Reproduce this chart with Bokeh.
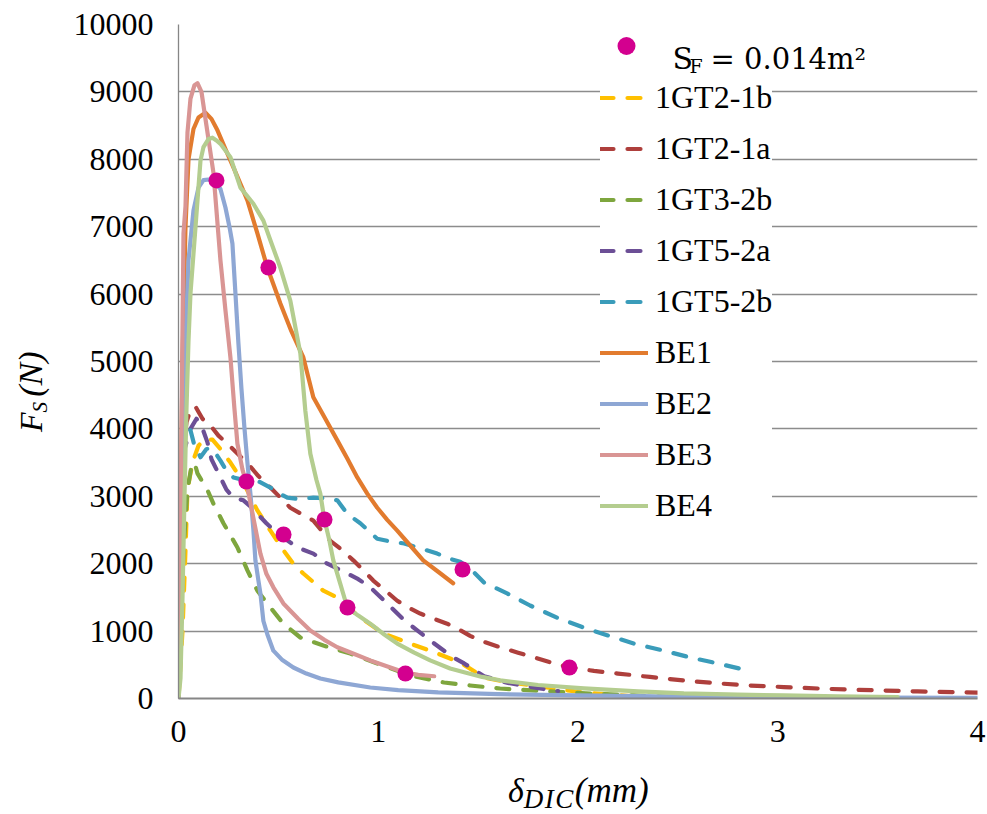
from bokeh.plotting import figure
from bokeh.models import Legend, LegendItem, Label, FixedTicker, Div
from bokeh.layouts import row, column
from bokeh.embed import file_html
from bokeh.resources import INLINE

# ---------------- data ----------------
x_ticks = [0, 1, 2, 3, 4]
y_ticks = [0, 1000, 2000, 3000, 4000, 5000, 6000, 7000, 8000, 9000, 10000]

gt2_1b_x = [0, 0.02, 0.035, 0.045, 0.07, 0.1, 0.13, 0.17, 0.21, 0.26, 0.325, 0.395, 0.46, 0.525, 0.575,
            0.625, 0.725, 0.795, 0.85, 0.91, 0.97, 1.025, 1.16, 1.295, 1.41, 1.53, 1.65, 1.78, 1.9, 2.03, 2.2, 2.36]
gt2_1b_y = [0, 1000, 2200, 3100, 3500, 3750, 3850, 3840, 3700, 3500, 3200, 2790, 2490, 2200, 2000,
            1855, 1600, 1500, 1350, 1200, 1080, 965, 815, 670, 535, 312, 240, 193, 140, 89, 50, 15]

gt2_1a_x = [0, 0.005, 0.01, 0.02, 0.04, 0.06, 0.085, 0.12, 0.16, 0.2, 0.245, 0.3, 0.345, 0.4, 0.46, 0.51,
            0.56, 0.62, 0.675, 0.72, 0.76, 0.82, 0.875, 0.93, 0.975, 1.04, 1.095, 1.15, 1.21, 1.28, 1.345,
            1.4, 1.46, 1.53, 1.61, 1.7, 1.78, 1.87, 1.96, 2.08, 2.2, 2.36, 2.53, 2.7, 2.86, 3.03, 3.2, 3.36,
            3.53, 3.7, 3.91, 4.0]
gt2_1a_y = [0, 1500, 2800, 3600, 4100, 4280, 4330, 4150, 4050, 3900, 3780, 3620, 3490, 3300, 3130, 2980,
            2830, 2730, 2640, 2480, 2340, 2200, 2050, 1890, 1750, 1590, 1450, 1350, 1260, 1180, 1110,
            1030, 930, 840, 760, 680, 610, 530, 460, 410, 370, 320, 267, 225, 193, 170, 148, 132,
            119, 105, 92, 88]

gt3_2b_x = [0, 0.01, 0.025, 0.045, 0.065, 0.08, 0.095, 0.145, 0.175, 0.225, 0.295, 0.345, 0.395, 0.46,
            0.525, 0.61, 0.725, 0.86, 0.995, 1.16, 1.33, 1.46, 1.61, 1.95, 2.28, 2.53]
gt3_2b_y = [0, 900, 2200, 3100, 3450, 3500, 3340, 3090, 2890, 2600, 2240, 1900, 1600, 1350,
            1110, 905, 785, 667, 520, 340, 237, 193, 148, 89, 45, 15]

gt5_2a_x = [0, 0.005, 0.015, 0.03, 0.06, 0.09, 0.115, 0.145, 0.165, 0.19, 0.21, 0.24, 0.275, 0.325, 0.36,
            0.395, 0.44, 0.495, 0.595, 0.675, 0.745, 0.845, 0.9, 0.96, 1.045, 1.13, 1.2, 1.26, 1.375,
            1.43, 1.53, 1.65, 1.81, 1.9]
gt5_2a_y = [0, 1500, 3000, 3700, 4000, 4150, 4050, 3800, 3550, 3400, 3280, 3100, 2980, 2940, 2850,
            2740, 2600, 2450, 2240, 2150, 2000, 1855, 1770, 1650, 1410, 1160, 1000, 860, 610,
            520, 330, 230, 148, 110]

gt5_2b_x = [0, 0.005, 0.01, 0.02, 0.04, 0.06, 0.08, 0.11, 0.14, 0.16, 0.19, 0.21, 0.24, 0.275, 0.33,
            0.395, 0.46, 0.5, 0.545, 0.6, 0.675, 0.74, 0.795, 0.845, 0.91, 0.995, 1.06, 1.13, 1.22,
            1.295, 1.35, 1.41, 1.47, 1.53, 1.645, 1.76, 1.895, 2.03, 2.15, 2.28, 2.43, 2.56, 2.7, 2.85]
gt5_2b_y = [0, 2000, 3200, 3700, 3900, 3980, 3750, 3580, 3700, 3720, 3620, 3530, 3380, 3280, 3240,
            3230, 3130, 3050, 2980, 2960, 2980, 2970, 2940, 2740, 2600, 2370, 2330, 2300, 2220,
            2150, 2080, 2030, 1900, 1720, 1560, 1380, 1200, 1050, 935, 815, 710, 610, 520, 415]

be1_x = [0, 0.01, 0.02, 0.035, 0.05, 0.075, 0.1, 0.135, 0.165, 0.195, 0.235, 0.275, 0.345, 0.395, 0.445,
         0.51, 0.565, 0.625, 0.675, 0.735, 0.795, 0.845, 0.895, 0.945, 0.995, 1.045, 1.095, 1.16, 1.225,
         1.3, 1.375]
be1_y = [0, 2500, 5000, 7000, 8000, 8450, 8620, 8690, 8600, 8430, 8150, 7880, 7390, 6900, 6390,
         5860, 5450, 5060, 4470, 4150, 3830, 3560, 3280, 3040, 2830, 2650, 2490, 2270, 2050,
         1880, 1710]

be2_x = [0, 0.015, 0.025, 0.035, 0.05, 0.075, 0.1, 0.125, 0.15, 0.18, 0.21, 0.235, 0.255, 0.27, 0.285,
         0.3, 0.315, 0.33, 0.345, 0.36, 0.375, 0.385, 0.4, 0.41, 0.425, 0.445, 0.475, 0.52, 0.575,
         0.64, 0.71, 0.8, 0.96, 1.1, 1.3, 1.6, 2.0, 2.5, 3.0, 3.5, 4.0]
be2_y = [0, 1500, 3200, 5270, 6500, 7240, 7580, 7690, 7700, 7660, 7560, 7285, 7000, 6750, 6010,
         5270, 4600, 4020, 3500, 3040, 2500, 2050, 1750, 1560, 1150, 950, 710, 570, 460,
         370, 297, 240, 163, 125, 90, 65, 45, 30, 22, 15, 10]

be3_x = [0, 0.01, 0.02, 0.025, 0.035, 0.045, 0.06, 0.08, 0.095, 0.115, 0.14, 0.175, 0.21, 0.235, 0.26,
         0.28, 0.295, 0.32, 0.345, 0.38, 0.41, 0.44, 0.475, 0.525, 0.6, 0.66, 0.73, 0.795, 0.88, 0.96,
         1.05, 1.13, 1.2, 1.28]
be3_y = [0, 2500, 5500, 6900, 7300, 8400, 8900, 9100, 9130, 9000, 8500, 7800, 6500, 5760, 5060,
         4300, 3780, 3400, 3130, 2600, 2150, 1850, 1650, 1410, 1180, 1010, 870, 760, 660, 565,
         470, 390, 350, 330]

be4_x = [0, 0.01, 0.02, 0.03, 0.04, 0.05, 0.06, 0.085, 0.11, 0.125, 0.15, 0.17, 0.19, 0.21, 0.26, 0.31,
         0.375, 0.425, 0.46, 0.51, 0.56, 0.61, 0.635, 0.66, 0.69, 0.71, 0.73, 0.755, 0.775, 0.81, 0.845,
         0.9, 0.96, 1.03, 1.095, 1.18, 1.26, 1.36, 1.43, 1.52, 1.61, 1.8, 2.03, 2.3, 2.53, 2.8, 3.03,
         3.3, 3.6]
be4_y = [0, 300, 1500, 3000, 4300, 5300, 6010, 6990, 7980, 8180, 8300, 8320, 8280, 8230, 8030, 7580,
         7340, 7090, 6800, 6390, 5900, 5120, 4270, 3630, 3250, 3040, 2660, 2350, 2050, 1700, 1350,
         1230, 1110, 950, 815, 680, 565, 445, 390, 320, 270, 200, 150, 105, 75, 58, 45,
         32, 20]

sf_x = [0.19, 0.45, 0.34, 0.526, 0.731, 0.846, 1.136, 1.422, 1.957]
sf_y = [7686, 6395, 3220, 2433, 2656, 1350, 371, 1914, 460]

# ---------------- figure ----------------
FONT = "Liberation Serif"
YDIV_W = 60
p = figure(width=987 - YDIV_W, height=758, x_range=(0, 4), y_range=(0, 10000),
           output_backend="svg", toolbar_location=None,
           min_border_left=178 - YDIV_W, min_border_right=10, min_border_top=24, min_border_bottom=60)
p.outline_line_color = None
p.background_fill_color = "white"
p.border_fill_color = "white"

p.xaxis.ticker = FixedTicker(ticks=x_ticks)
p.yaxis.ticker = FixedTicker(ticks=y_ticks)
for ax in (p.xaxis, p.yaxis):
    ax.major_tick_line_color = None
    ax.minor_tick_line_color = None
    ax.major_tick_out = 0
    ax.major_tick_in = 0
    ax.major_label_text_font = FONT
    ax.major_label_text_font_size = "32px"
    ax.major_label_text_color = "black"
    ax.axis_line_color = "#868686"
p.xaxis.axis_line_width = 2
p.yaxis.axis_line_width = 1.3
p.xaxis.major_label_standoff = 22
p.yaxis.major_label_standoff = 25
p.xgrid.grid_line_color = None
p.ygrid.grid_line_color = "#8c8c8c"
p.ygrid.grid_line_width = 1.3

DASH = "13 14"
W = 4.2
dashed = [
    ("1GT2-1b", gt2_1b_x, gt2_1b_y, "#FFC000"),
    ("1GT2-1a", gt2_1a_x, gt2_1a_y, "#AE3F3C"),
    ("1GT3-2b", gt3_2b_x, gt3_2b_y, "#7EA63E"),
    ("1GT5-2a", gt5_2a_x, gt5_2a_y, "#6C4F96"),
    ("1GT5-2b", gt5_2b_x, gt5_2b_y, "#3A9CBA"),
]
solid = [
    ("BE1", be1_x, be1_y, "#E27B2E"),
    ("BE2", be2_x, be2_y, "#8EA7D4"),
    ("BE3", be3_x, be3_y, "#D99594"),
    ("BE4", be4_x, be4_y, "#B4CD8F"),
]

renderers = {}
for name, xs, ys, col in dashed:
    renderers[name] = p.line(xs, ys, line_color=col, line_width=W, line_dash=DASH,
                             line_cap="round", line_join="round")
for name, xs, ys, col in solid:
    renderers[name] = p.line(xs, ys, line_color=col, line_width=W,
                             line_cap="round", line_join="round")
dots = p.scatter(sf_x, sf_y, marker="circle", size=16, fill_color="#D3008F", line_color=None)

common = dict(padding=10, spacing=6, glyph_width=48, glyph_height=45, label_height=45,
              label_standoff=7, label_text_font=FONT, label_text_font_size="32px",
              label_text_color="black", border_line_color=None, margin=0)

# legend entry for the dots (transparent, its text is drawn as labels)
legend_sf = Legend(items=[LegendItem(label=" ", renderers=[dots])], location=(424, 630),
                   background_fill_alpha=0.0, **common)
p.add_layout(legend_sf)

# legend for the curves
items = [LegendItem(label=name, renderers=[renderers[name]]) for name, *_ in dashed + solid]
legend = Legend(items=items, location=(422, 170), background_fill_color="white",
                background_fill_alpha=1.0, **common)
p.add_layout(legend)


def lab(text, cx, cy, font, size, style="normal"):
    # cx, cy: page pixel position of the text start / baseline
    p.add_layout(Label(x=cx - 178, y=698 - cy, x_units="screen", y_units="screen", text=text,
                       text_font=font, text_font_size=size, text_font_style=style,
                       text_color="black", text_align="left", text_baseline="alphabetic",
                       level="overlay"))


lab("S", 672, 58, "DejaVu Serif", "30px")
lab("F", 689, 65, "DejaVu Serif", "19px")
lab("= 0.014m²", 710, 58, "DejaVu Serif", "29px")

# axis titles as HTML (italic with subscripts)
ydiv = Div(width=YDIV_W, height=814, margin=0, text=(
    "<div style=\"position:absolute; left:15px; top:432px; transform:rotate(-90deg); "
    "transform-origin:0 0; white-space:nowrap; font-family:'Liberation Serif'; font-style:italic; "
    "font-size:32px; line-height:32px; color:black;\">F<span style=\"font-size:21px; position:relative; "
    "top:5px;\">S </span><span style=\"font-size:34px;\">(N)</span></div>"))

xdiv = Div(width=987 - YDIV_W, height=814 - 758, margin=0, text=(
    "<div style=\"position:absolute; left:%dpx; top:16px; white-space:nowrap; "
    "font-family:'Liberation Serif'; font-style:italic; font-size:34px; line-height:34px; color:black;\">"
    "δ<span style=\"font-size:27px; letter-spacing:1.5px; position:relative; top:6px;\">DIC</span>"
    "<span style=\"font-size:35px;\">(mm)</span></div>" % (508 - YDIV_W)))

layout = row(ydiv, column(p, xdiv, spacing=0), spacing=0)
open("out.html", "w").write(file_html(layout, INLINE))
